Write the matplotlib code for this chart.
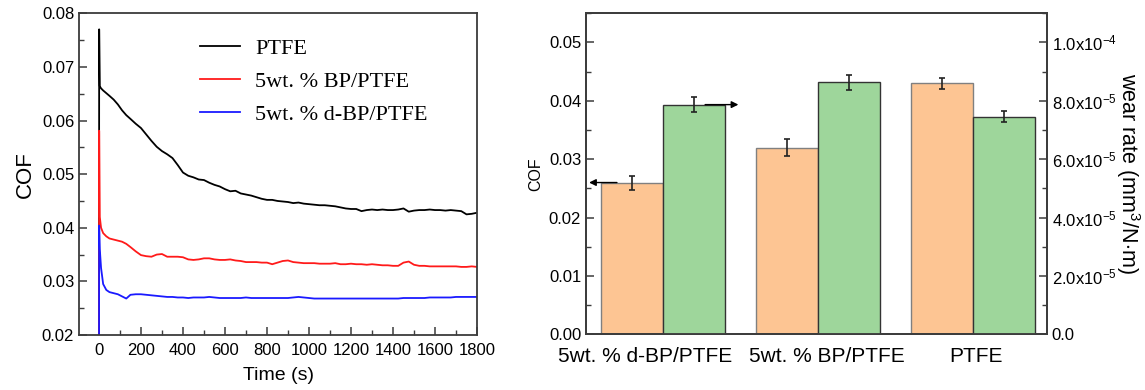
import matplotlib
matplotlib.use("Agg")
import matplotlib.pyplot as plt
from matplotlib.ticker import MultipleLocator, FixedLocator
from matplotlib.font_manager import FontProperties

plt.rcParams['font.family'] = ['Liberation Sans', 'DejaVu Sans']
plt.rcParams['mathtext.fontset'] = 'custom'
plt.rcParams['mathtext.rm'] = 'Liberation Sans'
plt.rcParams['mathtext.it'] = 'Liberation Sans:italic'

# friction traces, COF vs sliding time
time_s = [0, 1, 4, 10, 20, 35, 50, 70, 90, 110, 130, 150, 175, 200, 225, 250, 275,
          300, 325, 350, 375, 400, 425, 450, 475, 500, 525, 550, 575, 600, 625,
          650, 675, 700, 725, 750, 775, 800, 825, 850, 875, 900, 925, 950, 975,
          1000, 1025, 1050, 1075, 1100, 1125, 1150, 1175, 1200, 1225, 1250, 1275,
          1300, 1325, 1350, 1375, 1400, 1425, 1450, 1475, 1500, 1525, 1550, 1575,
          1600, 1625, 1650, 1675, 1700, 1725, 1750, 1775, 1800]
cof_ptfe = [0.0, 0.0770, 0.0664, 0.0660, 0.0656, 0.0651, 0.0646, 0.0639, 0.0630,
            0.0619, 0.0610, 0.0603, 0.0594, 0.0586, 0.0574, 0.0562, 0.0551, 0.0543,
            0.0537, 0.0530, 0.0517, 0.0503, 0.0497, 0.0494, 0.0490, 0.0489, 0.0484,
            0.0480, 0.0477, 0.0472, 0.0468, 0.0469, 0.0464, 0.0462, 0.0460, 0.0457,
            0.0454, 0.0452, 0.0452, 0.0450, 0.0449, 0.0448, 0.0446, 0.0447, 0.0445,
            0.0444, 0.0443, 0.0442, 0.0442, 0.0441, 0.0440, 0.0438, 0.0436, 0.0435,
            0.0435, 0.0431, 0.0433, 0.0434, 0.0433, 0.0434, 0.0433, 0.0433, 0.0434,
            0.0436, 0.0430, 0.0432, 0.0433, 0.0433, 0.0434, 0.0433, 0.0433, 0.0432,
            0.0433, 0.0432, 0.0431, 0.0425, 0.0426, 0.0428]
cof_bp = [0.0, 0.0581, 0.0420, 0.0400, 0.0390, 0.0384, 0.0380, 0.0378, 0.0376,
          0.0374, 0.0370, 0.0364, 0.0356, 0.0349, 0.0347, 0.0346, 0.0350, 0.0351,
          0.0346, 0.0346, 0.0346, 0.0345, 0.0341, 0.0340, 0.0341, 0.0343, 0.0343,
          0.0341, 0.0340, 0.0340, 0.0341, 0.0339, 0.0338, 0.0336, 0.0336, 0.0336,
          0.0335, 0.0335, 0.0332, 0.0335, 0.0338, 0.0339, 0.0336, 0.0335, 0.0334,
          0.0334, 0.0334, 0.0333, 0.0333, 0.0333, 0.0334, 0.0332, 0.0332, 0.0333,
          0.0332, 0.0332, 0.0331, 0.0332, 0.0331, 0.0330, 0.0330, 0.0329, 0.0329,
          0.0335, 0.0337, 0.0331, 0.0329, 0.0329, 0.0328, 0.0328, 0.0328, 0.0328,
          0.0328, 0.0328, 0.0327, 0.0327, 0.0328, 0.0327]
cof_dbp = [0.0, 0.0404, 0.0360, 0.0325, 0.0295, 0.0284, 0.0280, 0.0278, 0.0276,
           0.0272, 0.0268, 0.0275, 0.0276, 0.0276, 0.0275, 0.0274, 0.0273, 0.0272,
           0.0271, 0.0271, 0.0270, 0.0270, 0.0269, 0.0270, 0.0270, 0.0270, 0.0271,
           0.0270, 0.0269, 0.0269, 0.0269, 0.0269, 0.0269, 0.0270, 0.0269, 0.0269,
           0.0269, 0.0269, 0.0269, 0.0269, 0.0269, 0.0269, 0.0270, 0.0271, 0.0270,
           0.0269, 0.0268, 0.0268, 0.0268, 0.0268, 0.0268, 0.0268, 0.0268, 0.0268,
           0.0268, 0.0268, 0.0268, 0.0268, 0.0268, 0.0268, 0.0268, 0.0268, 0.0268,
           0.0269, 0.0269, 0.0269, 0.0269, 0.0269, 0.0270, 0.0270, 0.0270, 0.0270,
           0.0270, 0.0271, 0.0271, 0.0271, 0.0271, 0.0271]
series_labels = ['PTFE', '5wt. % BP/PTFE', '5wt. % d-BP/PTFE']

# bar chart: COF (left axis) and wear rate (right axis)
samples = ['5wt. % d-BP/PTFE', '5wt. % BP/PTFE', 'PTFE']
cof_mean = [0.026, 0.032, 0.043]
cof_err = [0.0012, 0.0015, 0.0009]
wear_mean = [7.87e-5, 8.63e-5, 7.46e-5]
wear_err = [2.7e-6, 2.7e-6, 2.0e-6]
wear_ticks = [0, 2e-5, 4e-5, 6e-5, 8e-5, 1e-4]
wear_tick_labels = ['0.0', r'2.0x10$^{-5}$', r'4.0x10$^{-5}$', r'6.0x10$^{-5}$',
                    r'8.0x10$^{-5}$', r'1.0x10$^{-4}$']

spine_c = '#3c3c3c'

fig = plt.figure(figsize=(11.45, 3.9), dpi=100)

# ---- left: COF vs time ----
ax1 = fig.add_axes([0.069, 0.141, 0.3476, 0.825])
ax1.plot(time_s, cof_ptfe, color='black', lw=1.3, label=series_labels[0])
ax1.plot(time_s, cof_bp, color='#ff1a1a', lw=1.3, label=series_labels[1])
ax1.plot(time_s, cof_dbp, color='#1a1aff', lw=1.3, label=series_labels[2])
ax1.set_xlim(-95, 1800)
ax1.set_ylim(0.02, 0.08)
ax1.xaxis.set_major_locator(FixedLocator(range(0, 1801, 200)))
ax1.xaxis.set_minor_locator(FixedLocator(range(100, 1800, 200)))
ax1.yaxis.set_major_locator(MultipleLocator(0.01))
ax1.yaxis.set_minor_locator(MultipleLocator(0.005))
ax1.yaxis.set_major_formatter(plt.FuncFormatter(lambda v, p: f'{v:.2f}'))
ax1.tick_params(which='both', direction='in', color=spine_c, labelsize=12)
ax1.tick_params(which='major', length=6, width=1.1)
ax1.tick_params(which='minor', length=3.5, width=1.0)
ax1.tick_params(axis='x', pad=6)
for s in ax1.spines.values():
    s.set_color(spine_c)
    s.set_linewidth(1.3)
ax1.set_xlabel('Time (s)', fontsize=14, labelpad=6)
ax1.set_ylabel('COF', fontsize=16, labelpad=4)
ax1.legend(frameon=False, loc='upper left', bbox_to_anchor=(0.304, 0.921),
           prop=FontProperties(family='Liberation Serif', size=16),
           handlelength=1.8, handletextpad=0.68, labelspacing=0.55,
           borderpad=0, borderaxespad=0)

# ---- right: COF and wear rate bars ----
ax2 = fig.add_axes([0.5118, 0.1428, 0.4026, 0.8232])
ax3 = ax2.twinx()
xs = list(range(len(samples)))
w = 0.4
ax2.bar([x - w / 2 for x in xs], cof_mean, w, color='#fdc593', edgecolor='#808080',
        lw=1.0, zorder=2)
ax2.errorbar([x - w / 2 for x in xs], cof_mean, yerr=cof_err, fmt='none',
             ecolor='#222222', elinewidth=1.2, capsize=2.5, capthick=1.2, zorder=3)
ax3.bar([x + w / 2 for x in xs], wear_mean, w, color='#9ed69b', edgecolor='#333333',
        lw=1.0, zorder=2)
ax3.errorbar([x + w / 2 for x in xs], wear_mean, yerr=wear_err, fmt='none',
             ecolor='#222222', elinewidth=1.2, capsize=2.5, capthick=1.2, zorder=3)

# arrows pointing each bar series to its own axis
ax2.annotate('', xy=(-0.48, cof_mean[0]), xytext=(-0.3, cof_mean[0]),
             arrowprops=dict(arrowstyle='-|>', color='black', lw=1.0,
                             mutation_scale=10, shrinkA=0, shrinkB=0), zorder=4)
ax3.annotate('', xy=(0.485, wear_mean[0]), xytext=(0.27, wear_mean[0]),
             arrowprops=dict(arrowstyle='-|>', color='black', lw=1.0,
                             mutation_scale=10, shrinkA=0, shrinkB=0), zorder=4)

ax2.set_xlim(-0.5, 2.48)
ax2.set_ylim(0, 0.055)
ax3.set_ylim(0, 1.1e-4)
# category labels sit slightly off the group centres so the long names don't collide
ax2.set_xticks([-0.12, 1.06, 2.02])
ax2.set_xticklabels(samples, fontsize=15)
ax2.tick_params(axis='x', length=0, pad=9)
ax2.yaxis.set_major_locator(MultipleLocator(0.01))
ax2.yaxis.set_minor_locator(MultipleLocator(0.005))
ax2.yaxis.set_major_formatter(plt.FuncFormatter(lambda v, p: f'{v:.2f}'))
ax2.tick_params(axis='y', which='both', direction='in', color=spine_c, labelsize=12)
ax2.tick_params(axis='y', which='major', length=6, width=1.1)
ax2.tick_params(axis='y', which='minor', length=3.5, width=1.0)
ax3.yaxis.set_major_locator(FixedLocator(wear_ticks))
ax3.set_yticklabels(wear_tick_labels)
ax3.yaxis.set_minor_locator(MultipleLocator(1e-5))
ax3.tick_params(axis='y', which='both', direction='in', color=spine_c, labelsize=12)
ax3.tick_params(axis='y', which='major', length=6, width=1.1)
ax3.tick_params(axis='y', which='minor', length=3.5, width=1.0)
for a in (ax2, ax3):
    for s in a.spines.values():
        s.set_color(spine_c)
        s.set_linewidth(1.3)
ax2.set_ylabel('COF', fontsize=11.5, labelpad=4)
ax3.set_ylabel('wear rate (mm$^{3}$/N$\\cdot$m)', fontsize=15.5, rotation=270,
               labelpad=18)

fig.savefig('out.png', dpi=100)
